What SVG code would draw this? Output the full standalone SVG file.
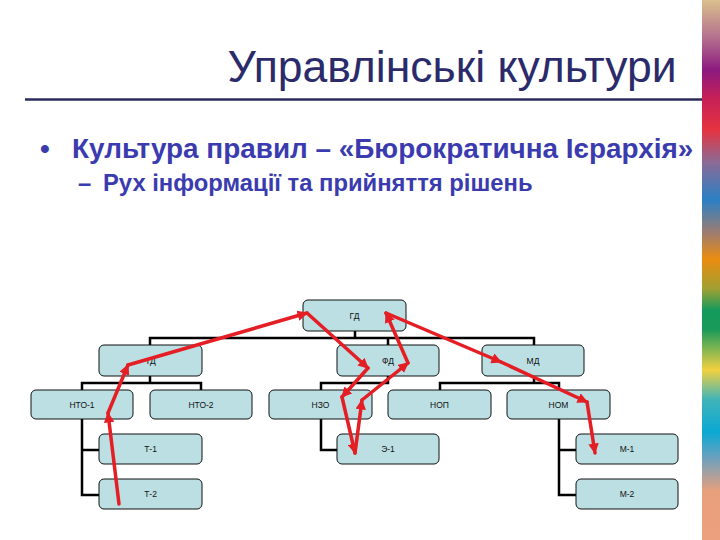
<svg xmlns="http://www.w3.org/2000/svg" width="720" height="540" viewBox="0 0 720 540">
<defs>
<linearGradient id="bar" x1="0" y1="0" x2="0" y2="1">
<stop offset="0" stop-color="#d9bf8c"/>
<stop offset="0.07" stop-color="#b4708e"/>
<stop offset="0.13" stop-color="#8c1a80"/>
<stop offset="0.18" stop-color="#c42058"/>
<stop offset="0.24" stop-color="#e63340"/>
<stop offset="0.30" stop-color="#8c6a95"/>
<stop offset="0.37" stop-color="#2a80c4"/>
<stop offset="0.43" stop-color="#9c7c72"/>
<stop offset="0.48" stop-color="#ea8c10"/>
<stop offset="0.535" stop-color="#a0a032"/>
<stop offset="0.575" stop-color="#139a5c"/>
<stop offset="0.61" stop-color="#1a9a5a"/>
<stop offset="0.65" stop-color="#8cb850"/>
<stop offset="0.685" stop-color="#f2d040"/>
<stop offset="0.74" stop-color="#40b4b8"/>
<stop offset="0.80" stop-color="#0aa8d4"/>
<stop offset="0.85" stop-color="#70a0bc"/>
<stop offset="0.91" stop-color="#e8a07c"/>
<stop offset="1" stop-color="#eda07e"/>
</linearGradient>
<marker id="ah" viewBox="0 0 10 10" refX="9" refY="5" markerWidth="3" markerHeight="3" orient="auto" markerUnits="strokeWidth">
<path d="M0,0 L10,5 L0,10 z" fill="#e41e24"/>
</marker>
<style>
.box{fill:#bcdfe3;stroke:#111;stroke-width:1}
.lbl{font-family:"Liberation Sans",Arial,sans-serif;font-size:8.5px;fill:#111;text-anchor:middle}
.conn{fill:none;stroke:#000;stroke-width:2.5}
.flow{fill:none;stroke:#e41e24;stroke-width:3.5;stroke-linecap:round;marker-end:url(#ah)}
.title{font-family:"Liberation Sans",Arial,sans-serif;font-size:44.5px;fill:#2b2b6b;text-anchor:middle}
.b1{font-family:"Liberation Sans",Arial,sans-serif;font-weight:bold;font-size:27.9px;fill:#3b3bb0}
.b2{font-family:"Liberation Sans",Arial,sans-serif;font-weight:bold;font-size:23.8px;fill:#3b3bb0}
</style>
</defs>
<rect width="720" height="540" fill="#fff"/>
<rect x="702" y="0" width="18" height="540" fill="url(#bar)"/>
<g id="header">
<text class="title" x="452" y="82">Управлінські культури</text>
<line x1="25" y1="99.5" x2="702" y2="99.5" stroke="#2b2b5b" stroke-width="2.5"/>
<text class="b1" x="40" y="158">•</text>
<text class="b1" x="72" y="158">Культура правил – «Бюрократична Ієрархія»</text>
<text class="b2" x="78" y="191">–</text>
<text class="b2" x="103" y="191">Рух інформації та прийняття рішень</text>
</g>
<g id="connectors">
<polyline class="conn" points="355,331 355,338"/>
<polyline class="conn" points="150,345 150,338 534,338 534,345"/>
<polyline class="conn" points="388,338 388,345"/>
<polyline class="conn" points="150,376 150,383"/>
<polyline class="conn" points="82,390 82,383 201,383 201,390"/>
<polyline class="conn" points="388,376 388,383 321,383 321,390"/>
<polyline class="conn" points="534,376 534,383"/>
<polyline class="conn" points="440,390 440,383 559,383 559,390"/>
<polyline class="conn" points="82,419 82,495 99,495"/>
<polyline class="conn" points="82,450 99,450"/>
<polyline class="conn" points="321,419 321,450 337,450"/>
<polyline class="conn" points="559,419 559,495 576,495"/>
<polyline class="conn" points="559,450 576,450"/>
</g>
<g id="node-gd"><rect class="box" x="303" y="300" width="103" height="31" rx="5"/><text class="lbl" x="354.5" y="318.5">ГД</text></g>
<g id="node-td"><rect class="box" x="99" y="345" width="103" height="31" rx="5"/><text class="lbl" x="150.5" y="363.5">ТД</text></g>
<g id="node-fd"><rect class="box" x="337" y="345" width="102" height="31" rx="5"/><text class="lbl" x="388" y="363.5">ФД</text></g>
<g id="node-md"><rect class="box" x="482" y="345" width="102" height="31" rx="5"/><text class="lbl" x="533" y="363.5">МД</text></g>
<g id="node-nto1"><rect class="box" x="31" y="390" width="102" height="29" rx="5"/><text class="lbl" x="82" y="407.5">НТО-1</text></g>
<g id="node-nto2"><rect class="box" x="150" y="390" width="102" height="29" rx="5"/><text class="lbl" x="201" y="407.5">НТО-2</text></g>
<g id="node-nzo"><rect class="box" x="269" y="390" width="103" height="29" rx="5"/><text class="lbl" x="320.5" y="407.5">НЗО</text></g>
<g id="node-nop"><rect class="box" x="388" y="390" width="103" height="29" rx="5"/><text class="lbl" x="439.5" y="407.5">НОП</text></g>
<g id="node-nom"><rect class="box" x="507" y="390" width="103" height="29" rx="5"/><text class="lbl" x="558.5" y="407.5">НОМ</text></g>
<g id="node-t1"><rect class="box" x="99" y="434" width="103" height="30" rx="5"/><text class="lbl" x="150.5" y="452">Т-1</text></g>
<g id="node-e1"><rect class="box" x="337" y="434" width="102" height="30" rx="5"/><text class="lbl" x="388" y="452">Э-1</text></g>
<g id="node-m1"><rect class="box" x="576" y="434" width="102" height="30" rx="5"/><text class="lbl" x="627" y="452">М-1</text></g>
<g id="node-t2"><rect class="box" x="99" y="479" width="103" height="30" rx="5"/><text class="lbl" x="150.5" y="497">Т-2</text></g>
<g id="node-m2"><rect class="box" x="576" y="479" width="102" height="30" rx="5"/><text class="lbl" x="627" y="497">М-2</text></g>
<g id="flow-arrows">
<line class="flow" x1="119" y1="504" x2="108" y2="413"/>
<line class="flow" x1="108" y1="413" x2="128" y2="365"/>
<line class="flow" x1="128" y1="365" x2="307" y2="313"/>
<line class="flow" x1="307" y1="313" x2="368" y2="368"/>
<line class="flow" x1="368" y1="368" x2="342" y2="397"/>
<line class="flow" x1="342" y1="397" x2="355" y2="453"/>
<line class="flow" x1="355" y1="453" x2="362" y2="400"/>
<line class="flow" x1="362" y1="400" x2="408" y2="363"/>
<line class="flow" x1="408" y1="363" x2="386" y2="313"/>
<line class="flow" x1="386" y1="313" x2="501" y2="362"/>
<line class="flow" x1="501" y1="362" x2="587" y2="402"/>
<line class="flow" x1="587" y1="402" x2="595" y2="453"/>
</g>
</svg>
